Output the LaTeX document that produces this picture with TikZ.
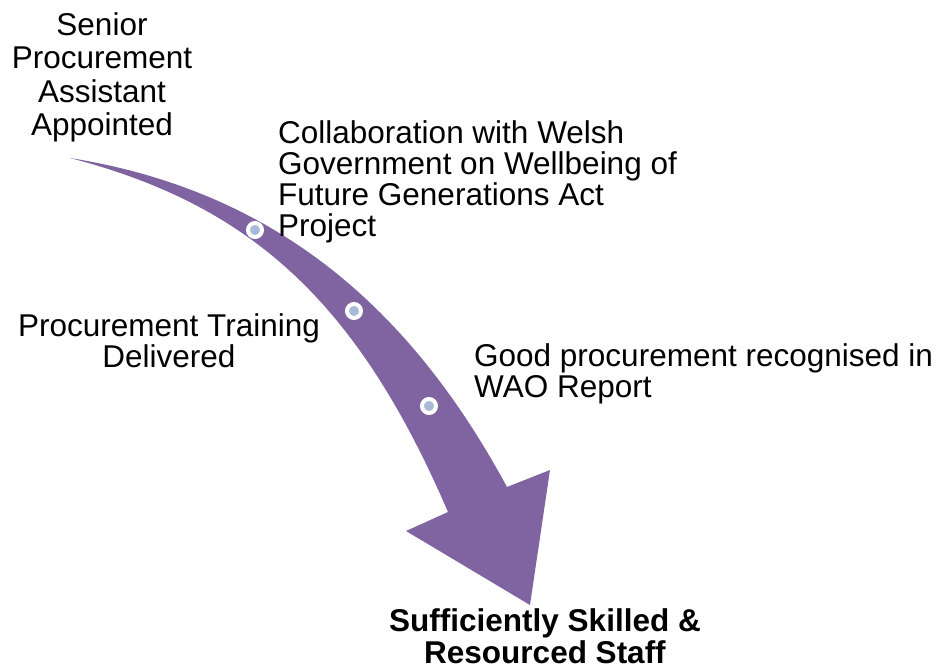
\documentclass[tikz,border=0pt]{standalone}
\usepackage{fontspec}
\setmainfont{Liberation Sans}
\usetikzlibrary{shapes.geometric,positioning}
\definecolor{arrowpurple}{HTML}{8064A2}
\definecolor{dotblue}{HTML}{A9BAD8}

\begin{document}
\begin{tikzpicture}[x=1pt,y=-1pt,
    milestone/.style={font=\fontsize{31.5}{31}\selectfont, inner sep=0pt},
    dot/.style={circle, fill=dotblue, draw=white, line width=4pt, minimum size=14pt, inner sep=0pt}]
    \useasboundingbox (0,0) rectangle (942,669);
    % curved arrow
    \fill[arrowpurple] (70,158) .. controls (270,190) and (407,302) .. (507,487)
        -- (550,470) -- (530,605) -- (406,531) -- (448,512)
        .. controls (357,300.6) and (250,204.8) .. (70,158) -- cycle;
    % milestones on the arrow
    \node[dot] (d1) at (255,230) {};
    \node[dot] (d2) at (354,311) {};
    \node[dot] (d3) at (429,406) {};
    \node[milestone, anchor=north, align=center, font=\fontsize{31.5}{33.5}\selectfont] (senior) at (102,12) {Senior\\Procurement\\Assistant\\Appointed};
    \node[milestone, anchor=north west, align=left] (collab) at (278,120) {Collaboration with Welsh\\Government on Wellbeing of\\Future Generations Act\\Project};
    \node[milestone, anchor=north, align=center] (training) at (169,313) {Procurement Training\\Delivered};
    \node[milestone, anchor=north west, align=left] (wao) at (474,343) {Good procurement recognised in\\WAO Report};
    \node[milestone, anchor=north, align=center, font=\fontsize{31.5}{32}\selectfont\bfseries] (staff) at (545,608) {Sufficiently Skilled \&\\Resourced Staff};
\end{tikzpicture}
\end{document}
